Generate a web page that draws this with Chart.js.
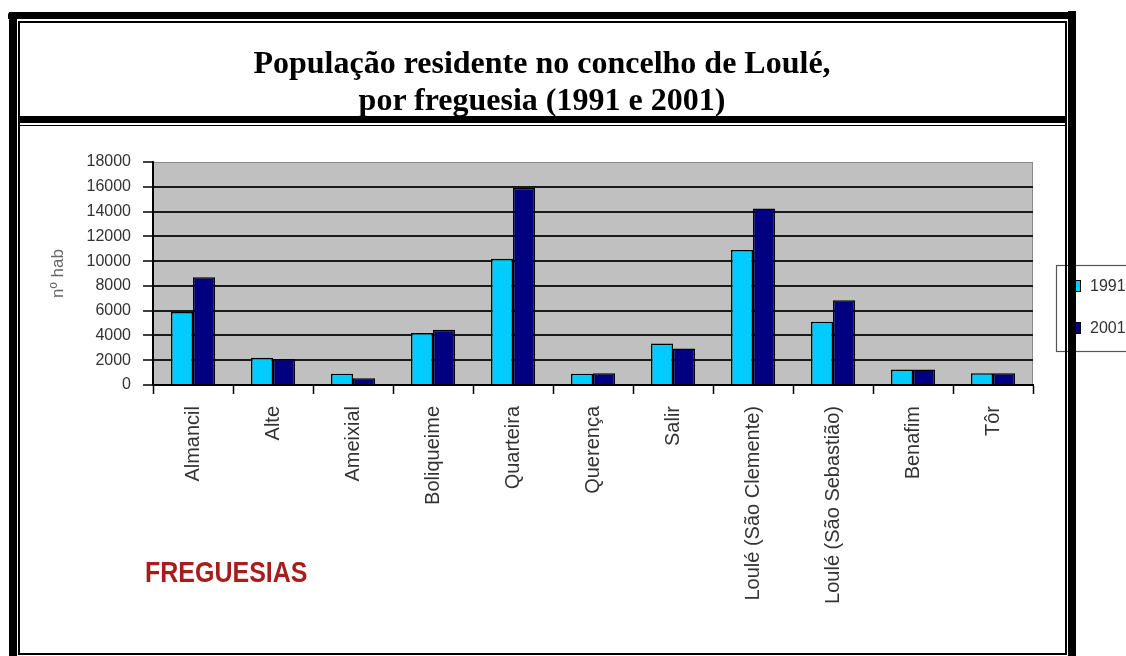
<!DOCTYPE html>
<html>
<head>
<meta charset="utf-8">
<script src="https://cdn.jsdelivr.net/npm/chart.js@4/dist/chart.umd.min.js"></script>
<style>
  html, body { margin: 0; padding: 0; background: #fff; overflow: hidden; }
  #wrap { position: relative; width: 1126px; height: 656px; }
  #c { position: absolute; left: 0; top: 0; }
  .b { position: absolute; background: #000; }
  #title { position: absolute; left: 19px; width: 1046px; top: 44px; text-align: center;
           font-family: "Liberation Serif", "Times New Roman", serif; font-weight: bold;
           font-size: 32px; line-height: 37px; color: #000; }
</style>
</head>
<body>
<div id="wrap">
  <canvas id="c" width="1126" height="656"></canvas>
  <div id="title">População residente no concelho de Loulé,<br>por freguesia (1991 e 2001)</div>
  <!-- frame -->
  <div class="b" style="left:8px;top:12px;width:1068px;height:7px;border-top-left-radius:3px;"></div>
  <div class="b" style="left:9px;top:12px;width:8px;height:644px;"></div>
  <div class="b" style="left:1068px;top:11px;width:8px;height:645px;"></div>
  <div class="b" style="left:18px;top:21px;width:1049px;height:1.6px;"></div>
  <div class="b" style="left:18px;top:21px;width:1.6px;height:634px;"></div>
  <div class="b" style="left:1065px;top:21px;width:1.6px;height:634px;"></div>
  <div class="b" style="left:18px;top:116px;width:1049px;height:7px;"></div>
  <div class="b" style="left:18px;top:124.7px;width:1049px;height:1.7px;"></div>
  <div class="b" style="left:18px;top:653px;width:1049px;height:2px;"></div>
</div>
<script>
const categories = ['Almancil', 'Alte', 'Ameixial', 'Boliqueime', 'Quarteira', 'Querença', 'Salir',
  'Loulé (São Clemente)', 'Loulé (São Sebastião)', 'Benafim', 'Tôr'];
const values1991 = [5900, 2200, 900, 4200, 10200, 900, 3350, 10900, 5100, 1250, 950];
const values2001 = [8700, 2100, 550, 4450, 15900, 950, 2950, 14250, 6850, 1250, 950];
const seriesLabels = ['1991', '2001'];
const yTickValues = [0, 2000, 4000, 6000, 8000, 10000, 12000, 14000, 16000, 18000];
const yAxisTitle = 'nº hab';
const xAxisTitle = 'FREGUESIAS';

Chart.defaults.font.family = '"Liberation Sans", Arial, sans-serif';

const plotBg = {
  id: 'plotBg',
  beforeDraw(chart) {
    const { ctx, chartArea: a } = chart;
    ctx.save();
    ctx.fillStyle = '#c0c0c0';
    ctx.fillRect(a.left, a.top, a.right - a.left, a.bottom - a.top);
    ctx.strokeStyle = '#8a8a8a';
    ctx.lineWidth = 1;
    ctx.strokeRect(a.left + 0.5, a.top + 0.5, a.right - a.left - 1, a.bottom - a.top - 1);
    ctx.restore();
  }
};

const extras = {
  id: 'extras',
  afterDraw(chart) {
    const ctx = chart.ctx;
    ctx.save();
    // x axis title
    ctx.fillStyle = '#a81c1c';
    ctx.font = 'bold 25px "Liberation Sans", Arial, sans-serif';
    ctx.textBaseline = 'alphabetic';
    ctx.translate(145, 582);
    ctx.scale(1, 1.15);
    ctx.fillText(xAxisTitle, 0, 0);
    ctx.restore();

    // legend
    ctx.save();
    const lx = 1056, ly = 265, lw = 120, lh = 86;
    ctx.fillStyle = '#fff';
    ctx.fillRect(lx, ly, lw, lh);
    ctx.strokeStyle = '#555';
    ctx.lineWidth = 1.2;
    ctx.strokeRect(lx + 0.5, ly + 0.5, lw, lh);
    const rows = [286, 328];
    chart.data.datasets.forEach((ds, i) => {
      const cy = rows[i];
      ctx.fillStyle = ds.backgroundColor;
      ctx.fillRect(1068, cy - 6, 13, 12);
      ctx.strokeStyle = '#000';
      ctx.lineWidth = 1;
      ctx.strokeRect(1068.5, cy - 5.5, 12, 11);
      ctx.fillStyle = '#333';
      ctx.font = '16px "Liberation Sans", Arial, sans-serif';
      ctx.textBaseline = 'middle';
      ctx.fillText(ds.label, 1090, cy + 1);
    });
    ctx.restore();
  }
};

new Chart(document.getElementById('c'), {
  type: 'bar',
  data: {
    labels: categories,
    datasets: [
      { label: seriesLabels[0], data: values1991, backgroundColor: '#00ccff', borderColor: '#000', borderWidth: 1.5,
        barPercentage: 1.0, categoryPercentage: 0.55 },
      { label: seriesLabels[1], data: values2001, backgroundColor: '#000080', borderColor: '#000', borderWidth: 1.5,
        barPercentage: 1.0, categoryPercentage: 0.55 }
    ]
  },
  options: {
    responsive: false,
    animation: false,
    devicePixelRatio: 1,
    layout: { padding: { left: 45, top: 162, right: 93, bottom: 0 } },
    plugins: { legend: { display: false }, tooltip: { enabled: false } },
    scales: {
      x: {
        offset: true,
        grid: { display: true, drawOnChartArea: false, drawTicks: true, tickLength: 9, tickColor: '#000', tickWidth: 1.5, offset: true },
        border: { display: true, color: '#000', width: 2 },
        ticks: { autoSkip: false, minRotation: 90, maxRotation: 90, padding: 12, color: '#333',
                 font: { size: 20 } },
        afterFit(scale) { scale.height = 271; }
      },
      y: {
        min: 0, max: 18000,
        afterBuildTicks(scale) { scale.ticks = yTickValues.map(v => ({ value: v })); },
        grid: {
          color: (c) => (c.tick && c.tick.value === 18000) ? 'rgba(0,0,0,0)' : '#1a1a1a',
          lineWidth: 2,
          drawTicks: true, tickLength: 10, tickColor: '#000', tickWidth: 1.5
        },
        border: { display: true, color: '#000', width: 2 },
        ticks: { padding: 12, color: '#333', font: { size: 16 }, callback: (v) => String(v) },
        title: { display: true, text: yAxisTitle, color: '#666', font: { size: 17 }, padding: 3 },
        afterFit(scale) { scale.width = 108; }
      }
    }
  },
  plugins: [plotBg, extras]
});
</script>
</body>
</html>
